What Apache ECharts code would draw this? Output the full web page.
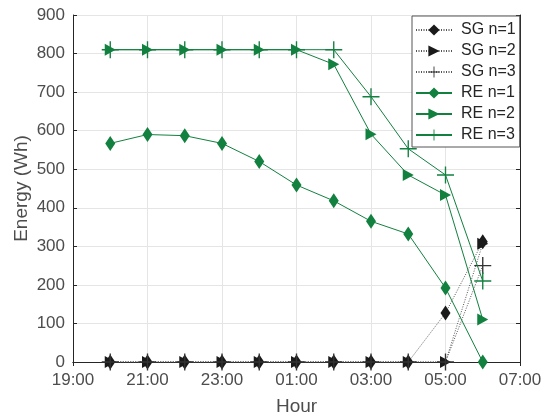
<!DOCTYPE html>
<html>
<head>
<meta charset="utf-8">
<script src="https://cdn.jsdelivr.net/npm/echarts@6/dist/echarts.min.js"></script>
<style>
  html, body { margin: 0; padding: 0; background: #fff; }
  #chart { width: 544px; height: 417px; }
</style>
</head>
<body>
<div id="chart"></div>
<script>
// hours 20:00 .. 06:00 (06:00 = 30 on a continuous scale)
const hours = [20, 21, 22, 23, 24, 25, 26, 27, 28, 29, 30]

const sg1 = [0, 0, 0, 0, 0, 0, 0, 0, 0, 127, 312]
const sg2 = [0, 0, 0, 0, 0, 0, 0, 0, 0, 0, 307]
const sg3 = [0, 0, 0, 0, 0, 0, 0, 0, 0, 0, 250]
const re1 = [567, 590, 587, 567, 520, 459, 418, 365, 332, 192, 0]
const re2 = [810, 810, 810, 810, 810, 810, 772, 591, 485, 433, 110]
const re3 = [810, 810, 810, 810, 810, 810, 810, 688, 553, 485, 210]

const seriesNames = ['SG n=1', 'SG n=2', 'SG n=3', 'RE n=1', 'RE n=2', 'RE n=3']

const green = '#12803f'
const black = '#1a1a1a'
const font = 'Liberation Sans, Arial, Helvetica, sans-serif'

const plus = 'path://M0,4.6 H10 V5.4 H0 Z M4.6,0 H5.4 V10 H4.6 Z'

function pairs(vals) {
  return hours.map((h, i) => [h, vals[i]])
}

function fmtHour(v) {
  const h = ((v % 24) + 24) % 24
  return (h < 10 ? '0' : '') + h + ':00'
}

function makeSeries(name, vals, color, symbol, size, rotate, dotted) {
  return {
    name: name,
    type: 'line',
    data: pairs(vals),
    symbol: symbol,
    symbolSize: size,
    symbolRotate: rotate,
    showAllSymbol: true,
    animation: false,
    lineStyle: {
      color: dotted ? '#555' : color,
      width: 1,
      type: dotted ? [1, 1.5] : 'solid'
    },
    itemStyle: { color: color, opacity: 1 },
    z: dotted ? 2 : 3
  }
}

const chart = echarts.init(document.getElementById('chart'))

chart.setOption({
  backgroundColor: '#fff',
  textStyle: { fontFamily: font },
  legend: {
    data: seriesNames,
    orient: 'vertical',
    left: 412,
    top: 16,
    padding: [6, 4, 4, 3],
    itemWidth: 36,
    itemHeight: 14,
    itemGap: 5,
    backgroundColor: '#fff',
    borderColor: '#555',
    borderWidth: 1,
    textStyle: { fontFamily: font, fontSize: 16, color: '#262626', padding: [0, 0, 0, 4] }
  },
  // fixed plot box, labels may hang outside it
  grid: { left: 73, right: 24, top: 15, bottom: 55, containLabel: false, outerBoundsMode: 'none' },
  xAxis: [{
    type: 'value',
    min: 19,
    max: 31,
    interval: 2,
    name: 'Hour',
    nameLocation: 'middle',
    nameGap: 35,
    nameMoveOverlap: false,
    nameTextStyle: { fontSize: 19, color: '#4d4d4d', fontFamily: font },
    axisLine: { lineStyle: { color: '#262626' } },
    axisTick: { inside: true, length: 4, lineStyle: { color: '#262626' } },
    axisLabel: { formatter: fmtHour, fontSize: 17, color: '#4d4d4d', margin: 10, fontFamily: font },
    splitLine: { show: true, lineStyle: { color: '#e5e5e5' } }
  }, {
    type: 'value',
    position: 'top',
    min: 19,
    max: 31,
    interval: 2,
    axisLine: { show: true, lineStyle: { color: '#262626' } },
    axisTick: { show: true, inside: true, length: 4, lineStyle: { color: '#262626' } },
    axisLabel: { show: false },
    splitLine: { show: false }
  }],
  yAxis: [{
    type: 'value',
    min: 0,
    max: 900,
    interval: 100,
    name: 'Energy (Wh)',
    nameLocation: 'middle',
    nameGap: 42,
    nameMoveOverlap: false,
    nameTextStyle: { fontSize: 19, color: '#4d4d4d', fontFamily: font },
    axisLine: { show: true, lineStyle: { color: '#262626' } },
    axisTick: { show: true, inside: true, length: 4, lineStyle: { color: '#262626' } },
    axisLabel: { fontSize: 17, color: '#4d4d4d', margin: 8, fontFamily: font },
    splitLine: { show: true, lineStyle: { color: '#e5e5e5' } }
  }, {
    type: 'value',
    position: 'right',
    min: 0,
    max: 900,
    interval: 100,
    axisLine: { show: true, lineStyle: { color: '#262626' } },
    axisTick: { show: true, inside: true, length: 4, lineStyle: { color: '#262626' } },
    axisLabel: { show: false },
    splitLine: { show: false }
  }],
  series: [
    makeSeries('SG n=1', sg1, black, 'diamond', [10, 15], 0, true),
    makeSeries('SG n=2', sg2, black, 'triangle', [12, 11], -90, true),
    makeSeries('SG n=3', sg3, '#333', plus, [17, 17], 0, true),
    makeSeries('RE n=1', re1, green, 'diamond', [10, 15], 0, false),
    makeSeries('RE n=2', re2, green, 'triangle', [12, 11], -90, false),
    makeSeries('RE n=3', re3, green, plus, [17, 17], 0, false)
  ]
})
</script>
</body>
</html>
